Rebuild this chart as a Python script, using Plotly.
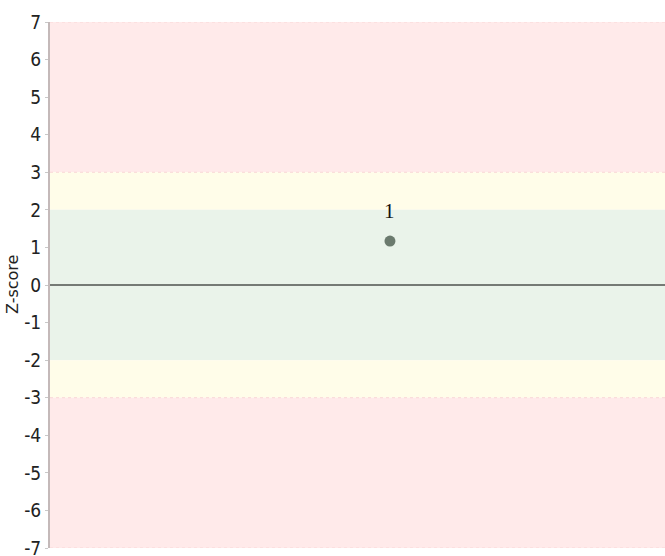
import plotly.graph_objects as go

# Data
sample_x = [1]
z_scores = [1.17]
labels = ["1"]
y_title = "Z-score"

bands = [  # (y0, y1, color)
    (3, 7, "#ffeaea"),
    (2, 3, "#fffde9"),
    (-2, 2, "#eaf3ea"),
    (-3, -2, "#fffde9"),
    (-7, -3, "#ffeaea"),
]
tick_vals = list(range(-7, 8))

fig = go.Figure()

for y0, y1, c in bands:
    fig.add_shape(type="rect", xref="paper", yref="y", x0=0, x1=1, y0=y0, y1=y1,
                  fillcolor=c, line=dict(width=0), layer="below")
for yv in [7, 3, -3, -7]:
    fig.add_shape(type="line", xref="paper", yref="y", x0=0, x1=1, y0=yv, y1=yv,
                  line=dict(color="#f9d6d6", width=1, dash="dot"), layer="below")
fig.add_shape(type="line", xref="paper", yref="y", x0=0, x1=1, y0=0, y1=0,
              line=dict(color="#000000", width=1))

fig.add_trace(go.Scatter(
    x=sample_x, y=z_scores, mode="markers",
    marker=dict(symbol="circle", size=11, color="#6b7a6e"),
    hoverinfo="skip", showlegend=False,
))
for x, y, t in zip(sample_x, z_scores, labels):
    fig.add_annotation(x=x, y=y, text=t, showarrow=False, yshift=30,
                       font=dict(family="Liberation Serif", size=21, color="#111111"))

# y-axis title as rotated annotation
fig.add_annotation(x=0, y=0.5, xref="paper", yref="paper", text=y_title,
                   textangle=-90, showarrow=False, xanchor="center", yanchor="middle",
                   xshift=-38, font=dict(family="DejaVu Sans", size=16, color="#222222"))

fig.update_xaxes(range=[0, 1.809], visible=False, showgrid=False, zeroline=False)
fig.update_yaxes(
    range=[-7, 7], tickvals=tick_vals, ticktext=[str(v) for v in tick_vals],
    showgrid=False, zeroline=False, showline=True, linecolor="#c4b9b9", linewidth=2,
    ticks="outside", ticklen=3, tickcolor="#c8c8c8",
    tickfont=dict(family="DejaVu Sans Condensed", size=19, color="#222222"),
    ticklabeloverflow="allow", automargin=False,
)
fig.update_layout(
    width=665, height=556,
    margin=dict(l=50, r=0, t=22, b=8),
    plot_bgcolor="white", paper_bgcolor="white",
)

fig.write_html("out.html", config={"displayModeBar": False},
               post_script="document.body.style.margin='0';")
